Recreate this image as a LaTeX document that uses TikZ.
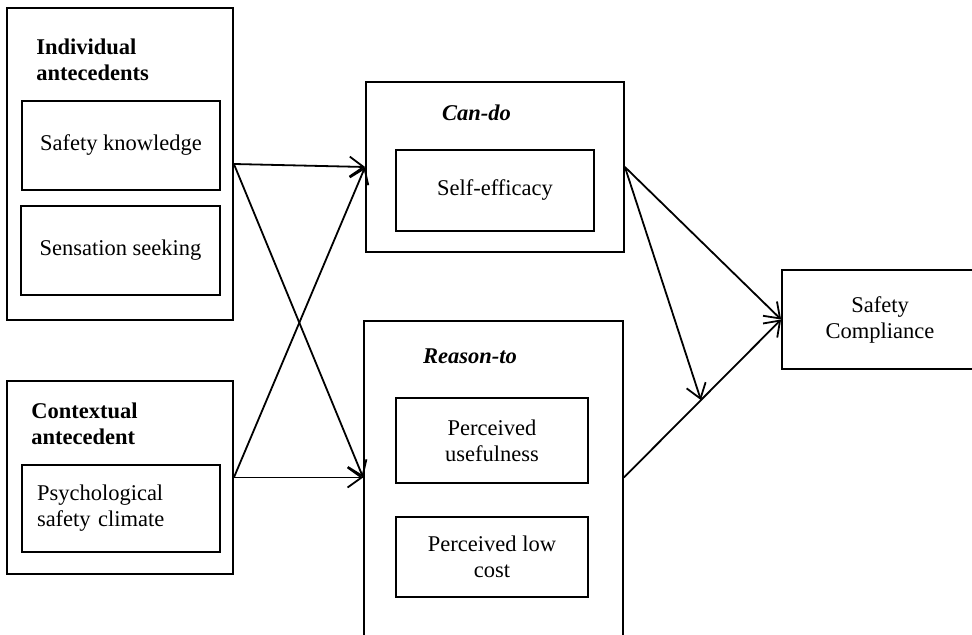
\documentclass[tikz,border=0pt]{standalone}
\usepackage{fontspec}
\setmainfont{Liberation Serif}
\usetikzlibrary{arrows.meta,calc}
\newcommand{\boxfont}{\fontsize{11.25}{13}\selectfont}
\begin{document}
\begin{tikzpicture}[x=0.5pt,y=-0.5pt,
			box/.style={draw,line width=0.9pt,inner sep=0,align=center,font=\boxfont},
			head/.style={inner sep=0,align=left,font=\boxfont\bfseries},
			ihead/.style={inner sep=0,font=\boxfont\bfseries\itshape},
			arr/.style={line width=0.9pt,-{Straight Barb[length=7pt,width=10pt,line width=0.9pt]}}]
			\useasboundingbox (0,0) rectangle (972,635);
			% left column
			\node[box,minimum width=113pt,minimum height=156pt] (indiv) at (120,164) {};
			\node[head,anchor=north west] (indivhead) at (36,38) {Individual\\antecedents};
			\node[box,minimum width=99pt,minimum height=44.5pt] (know) at (121,145.5) {Safety knowledge};
			\node[box,minimum width=99.5pt,minimum height=44.5pt] (sens) at (120.5,250.5) {Sensation seeking};
			\node[box,minimum width=113pt,minimum height=96.5pt] (context) at (120,477.5) {};
			\node[head,anchor=north west] (contexthead) at (31,402) {Contextual\\antecedent};
			\node[box,minimum height=43.5pt,text width=84pt,inner xsep=7.5pt,align=left] (psych) at (121,508.5) {Psychological\\safety climate};
			% middle column
			\node[box,minimum width=129pt,minimum height=85pt] (cando) at (495,167) {};
			\node[ihead,anchor=base] (candohead) at (476.5,121) {Can-do};
			\node[box,minimum width=99pt,minimum height=40.5pt] (selfeff) at (495,190.5) {Self-efficacy};
			\node[box,minimum width=129.5pt,minimum height=164.5pt] (reason) at (493.5,485.5) {};
			\node[ihead,anchor=base] (reasonhead) at (470,364) {Reason-to};
			\node[box,minimum width=96pt,minimum height=42.5pt] (useful) at (492,440.5) {Perceived\\usefulness};
			\node[box,minimum width=96pt,minimum height=40pt] (lowcost) at (492,557) {Perceived low\\cost};
			% outcome
			\node[box,minimum width=98pt,minimum height=49.5pt] (comply) at (880,319.5) {Safety\\Compliance};
			% paths
			\coordinate (rin) at (reason.west |- context.east);
			\coordinate (rout) at (reason.east |- context.east);
			\coordinate (moder) at ($(rout)!0.49!(comply.west)$);
			\draw[arr] (indiv.east) -- (cando.west);
			\draw[arr] (indiv.east) -- (rin);
			\draw[arr] (context.east) -- (cando.west);
			\draw[arr] (context.east) -- (rin);
			\draw[arr] (cando.east) -- (comply.west);
			\draw[arr] (cando.east) -- (moder);
			\draw[arr] (rout) -- (comply.west);
		\end{tikzpicture}
\end{document}
